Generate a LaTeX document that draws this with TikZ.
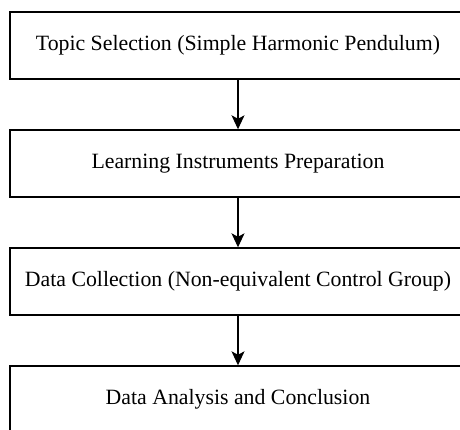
\documentclass[tikz,border=0pt]{standalone}
\usepackage{fontspec}
\setmainfont{Liberation Serif}
\usetikzlibrary{arrows.meta}
\begin{document}
\begin{tikzpicture}[x=1pt,y=1pt,
  stepbox/.style={draw=black,line width=1.4pt,minimum width=456pt,minimum height=67pt,inner sep=0pt,font=\fontsize{21.8}{26}\selectfont,anchor=center},
  flow/.style={line width=1.3pt,-{Stealth[length=14pt,width=13pt,inset=3.5pt]}}]
\useasboundingbox (0,0) rectangle (460,429);
\clip (0,0) rectangle (460,429);
\node[stepbox] (b1) at (238,383.5) {Topic Selection (Simple Harmonic Pendulum)};
\node[stepbox] (b2) at (238,265.5) {Learning Instruments Preparation};
\node[stepbox] (b3) at (238,147.5) {Data Collection (Non-equivalent Control Group)};
\node[stepbox] (b4) at (238,29.5) {Data Analysis and Conclusion};
\draw[flow] (b1.south) -- (b2.north);
\draw[flow] (b2.south) -- (b3.north);
\draw[flow] (b3.south) -- (b4.north);
\end{tikzpicture}
\end{document}
